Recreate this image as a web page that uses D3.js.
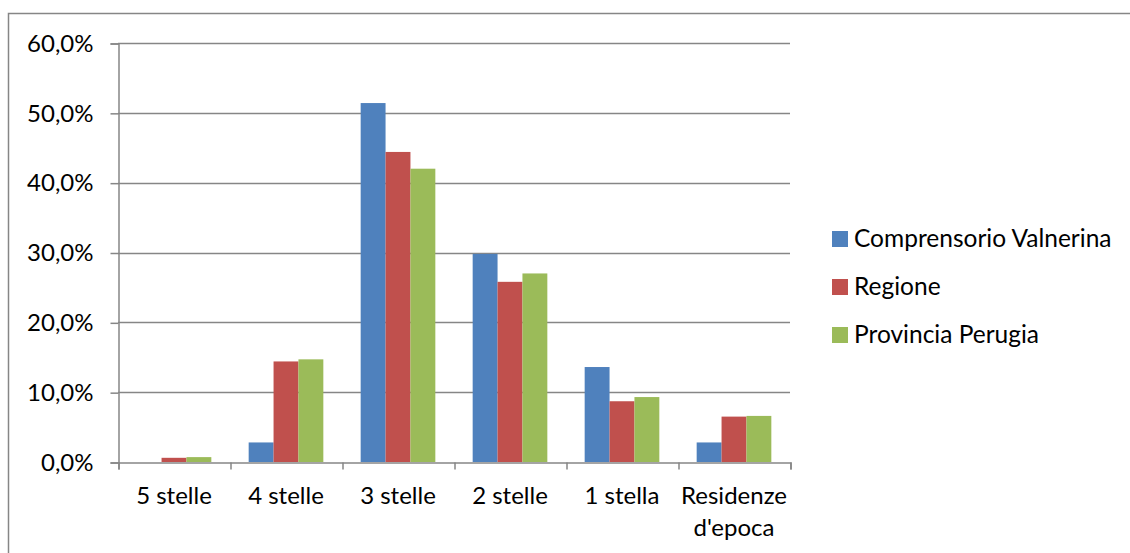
<!DOCTYPE html>
<html>
<head>
<meta charset="utf-8">
<script src="https://cdn.jsdelivr.net/npm/d3@7"></script>
<style>
  body { margin: 0; background: #fff; }
  svg { display: block; font-family: Lato, "Open Sans", sans-serif; }
</style>
</head>
<body>
<div id="chart"></div>
<script>
var categories = ['5 stelle', '4 stelle', '3 stelle', '2 stelle', '1 stella', "Residenze\nd'epoca"];
var seriesNames = ['Comprensorio Valnerina', 'Regione', 'Provincia Perugia'];
var valnerina = [0.0, 2.8, 51.4, 29.8, 13.6, 2.8];
var regione = [0.6, 14.4, 44.4, 25.8, 8.7, 6.5];
var perugia = [0.7, 14.7, 42.0, 27.0, 9.3, 6.6];
var yTicks = [0, 10, 20, 30, 40, 50, 60];
var colors = ['#4F81BD', '#C0504D', '#9BBB59'];

var w = 1130, h = 553;
var plotLeft = 118, plotRight = 790, plotTop = 43, plotBottom = 462;
var fontSize = 24;

var svg = d3.select('#chart').append('svg')
  .attr('width', w)
  .attr('height', h);

// chart frame (runs off the right and bottom of the picture)
svg.append('path')
  .attr('d', 'M8.5,' + h + 'V13.5H' + w)
  .attr('fill', 'none')
  .attr('stroke', '#868686')
  .attr('stroke-width', 1.5);

var x0 = d3.scaleBand().domain(d3.range(categories.length)).range([plotLeft, plotRight]);
var bw = x0.bandwidth();
var gap = bw / 4.5 * 1.5;
var x1 = d3.scaleBand().domain(d3.range(seriesNames.length)).range([gap / 2, bw - gap / 2]);
var y = d3.scaleLinear().domain([0, 60]).range([plotBottom, plotTop]);

// gridlines
svg.append('g')
  .selectAll('line')
  .data(yTicks.slice(1))
  .join('line')
  .attr('x1', plotLeft)
  .attr('x2', plotRight)
  .attr('y1', function(d) { return Math.round(y(d)) + 0.5; })
  .attr('y2', function(d) { return Math.round(y(d)) + 0.5; })
  .attr('stroke', '#868686')
  .attr('stroke-width', 1.5);

// bars
var values = [valnerina, regione, perugia];
values.forEach(function(vals, s) {
  svg.append('g')
    .selectAll('rect')
    .data(vals)
    .join('rect')
    .attr('x', function(d, i) { return x0(i) + x1(s); })
    .attr('y', function(d) { return y(d); })
    .attr('width', x1.bandwidth())
    .attr('height', function(d) { return plotBottom - y(d); })
    .attr('fill', colors[s]);
});

// y axis
var yAxis = d3.axisLeft(y)
  .tickValues(yTicks)
  .tickSize(8)
  .tickPadding(17)
  .tickFormat(function(d) { return d.toFixed(1).replace('.', ',') + '%'; });
var gy = svg.append('g')
  .attr('transform', 'translate(' + (plotLeft + 0.5) + ',0.5)')
  .call(yAxis);
gy.selectAll('line, path').attr('stroke', '#868686').attr('stroke-width', 1.5);
gy.selectAll('text').attr('font-size', fontSize).attr('fill', '#000').attr('font-family', 'Lato, sans-serif');

// x axis
var xAxis = d3.axisBottom(d3.scaleLinear().domain([0, categories.length]).range([plotLeft, plotRight]))
  .tickValues(d3.range(categories.length + 1))
  .tickSize(7)
  .tickFormat('');
var gx = svg.append('g')
  .attr('transform', 'translate(0.5,' + (plotBottom + 0.5) + ')')
  .call(xAxis);
gx.selectAll('line, path').attr('stroke', '#868686').attr('stroke-width', 1.5);

// category labels
svg.append('g')
  .selectAll('text')
  .data(categories)
  .join('text')
  .attr('x', function(d, i) { return x0(i) + bw / 2; })
  .attr('y', 504)
  .attr('text-anchor', 'middle')
  .attr('font-size', fontSize)
  .attr('fill', '#000')
  .each(function(d) {
    var t = d3.select(this);
    d.split('\n').forEach(function(line, k) {
      t.append('tspan')
        .attr('x', t.attr('x'))
        .attr('dy', k === 0 ? 0 : 32)
        .text(line);
    });
  });

// legend
var legend = svg.append('g').attr('transform', 'translate(832,239)');
var item = legend.selectAll('g')
  .data(seriesNames)
  .join('g')
  .attr('transform', function(d, i) { return 'translate(0,' + i * 48 + ')'; });
item.append('rect')
  .attr('x', 0)
  .attr('y', -8)
  .attr('width', 16)
  .attr('height', 16)
  .attr('fill', function(d, i) { return colors[i]; });
item.append('text')
  .attr('x', 22)
  .attr('y', 8)
  .attr('font-size', 24.5)
  .attr('fill', '#000')
  .text(function(d) { return d; });
</script>
</body>
</html>
